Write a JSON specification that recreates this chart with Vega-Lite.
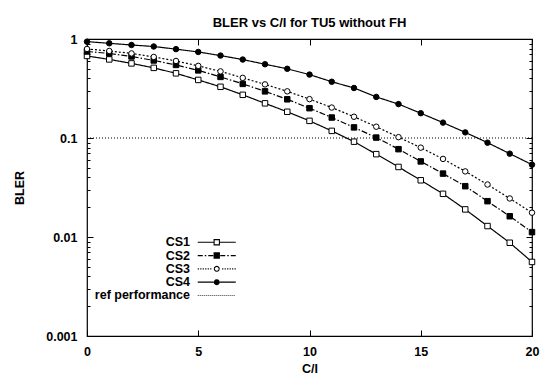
{
  "$schema": "https://vega.github.io/schema/vega-lite/v6.json",
  "width": 445,
  "height": 297,
  "autosize": "none",
  "padding": {"left": 87, "top": 39, "right": 10, "bottom": 41},
  "background": "white",
  "title": {"text": "BLER vs C/I for TU5 without FH", "anchor": "middle", "frame": "group", "font": "Liberation Sans", "fontSize": 13, "fontWeight": "bold", "color": "black", "baseline": "alphabetic", "offset": -7},
  "config": {
    "view": {"stroke": "black", "strokeWidth": 1.2},
    "axis": {"domain": false, "grid": false, "labelFont": "Liberation Sans", "labelFontSize": 12.5, "labelFontWeight": "bold", "labelColor": "black", "titleFont": "Liberation Sans", "titleFontSize": 12.5, "titleFontWeight": "bold", "titleColor": "black", "tickColor": "black", "tickWidth": 1}
  },
  "data": {"values": [
    {"series": "CS1", "ci": 0, "bler": 0.674}, {"series": "CS1", "ci": 1, "bler": 0.622}, {"series": "CS1", "ci": 2, "bler": 0.567}, {"series": "CS1", "ci": 3, "bler": 0.511}, {"series": "CS1", "ci": 4, "bler": 0.45}, {"series": "CS1", "ci": 5, "bler": 0.386}, {"series": "CS1", "ci": 6, "bler": 0.329}, {"series": "CS1", "ci": 7, "bler": 0.273}, {"series": "CS1", "ci": 8, "bler": 0.224}, {"series": "CS1", "ci": 9, "bler": 0.184}, {"series": "CS1", "ci": 10, "bler": 0.149}, {"series": "CS1", "ci": 11, "bler": 0.118}, {"series": "CS1", "ci": 12, "bler": 0.0918}, {"series": "CS1", "ci": 13, "bler": 0.0687}, {"series": "CS1", "ci": 14, "bler": 0.051}, {"series": "CS1", "ci": 15, "bler": 0.0374}, {"series": "CS1", "ci": 16, "bler": 0.0273}, {"series": "CS1", "ci": 17, "bler": 0.019}, {"series": "CS1", "ci": 18, "bler": 0.0129}, {"series": "CS1", "ci": 19, "bler": 0.00875}, {"series": "CS1", "ci": 20, "bler": 0.0056},
    {"series": "CS2", "ci": 0, "bler": 0.748}, {"series": "CS2", "ci": 1, "bler": 0.715}, {"series": "CS2", "ci": 2, "bler": 0.666}, {"series": "CS2", "ci": 3, "bler": 0.607}, {"series": "CS2", "ci": 4, "bler": 0.547}, {"series": "CS2", "ci": 5, "bler": 0.482}, {"series": "CS2", "ci": 6, "bler": 0.414}, {"series": "CS2", "ci": 7, "bler": 0.352}, {"series": "CS2", "ci": 8, "bler": 0.296}, {"series": "CS2", "ci": 9, "bler": 0.246}, {"series": "CS2", "ci": 10, "bler": 0.2}, {"series": "CS2", "ci": 11, "bler": 0.161}, {"series": "CS2", "ci": 12, "bler": 0.128}, {"series": "CS2", "ci": 13, "bler": 0.101}, {"series": "CS2", "ci": 14, "bler": 0.0771}, {"series": "CS2", "ci": 15, "bler": 0.058}, {"series": "CS2", "ci": 16, "bler": 0.0437}, {"series": "CS2", "ci": 17, "bler": 0.0326}, {"series": "CS2", "ci": 18, "bler": 0.023}, {"series": "CS2", "ci": 19, "bler": 0.0162}, {"series": "CS2", "ci": 20, "bler": 0.0112},
    {"series": "CS3", "ci": 0, "bler": 0.793}, {"series": "CS3", "ci": 1, "bler": 0.757}, {"series": "CS3", "ci": 2, "bler": 0.715}, {"series": "CS3", "ci": 3, "bler": 0.659}, {"series": "CS3", "ci": 4, "bler": 0.6}, {"series": "CS3", "ci": 5, "bler": 0.535}, {"series": "CS3", "ci": 6, "bler": 0.471}, {"series": "CS3", "ci": 7, "bler": 0.405}, {"series": "CS3", "ci": 8, "bler": 0.348}, {"series": "CS3", "ci": 9, "bler": 0.296}, {"series": "CS3", "ci": 10, "bler": 0.247}, {"series": "CS3", "ci": 11, "bler": 0.203}, {"series": "CS3", "ci": 12, "bler": 0.164}, {"series": "CS3", "ci": 13, "bler": 0.13}, {"series": "CS3", "ci": 14, "bler": 0.102}, {"series": "CS3", "ci": 15, "bler": 0.0799}, {"series": "CS3", "ci": 16, "bler": 0.0615}, {"series": "CS3", "ci": 17, "bler": 0.046}, {"series": "CS3", "ci": 18, "bler": 0.0339}, {"series": "CS3", "ci": 19, "bler": 0.0245}, {"series": "CS3", "ci": 20, "bler": 0.0176},
    {"series": "CS4", "ci": 0, "bler": 0.94}, {"series": "CS4", "ci": 1, "bler": 0.905}, {"series": "CS4", "ci": 2, "bler": 0.87}, {"series": "CS4", "ci": 3, "bler": 0.84}, {"series": "CS4", "ci": 4, "bler": 0.79}, {"series": "CS4", "ci": 5, "bler": 0.74}, {"series": "CS4", "ci": 6, "bler": 0.68}, {"series": "CS4", "ci": 7, "bler": 0.62}, {"series": "CS4", "ci": 8, "bler": 0.556}, {"series": "CS4", "ci": 9, "bler": 0.5}, {"series": "CS4", "ci": 10, "bler": 0.437}, {"series": "CS4", "ci": 11, "bler": 0.37}, {"series": "CS4", "ci": 12, "bler": 0.32}, {"series": "CS4", "ci": 13, "bler": 0.26}, {"series": "CS4", "ci": 14, "bler": 0.22}, {"series": "CS4", "ci": 15, "bler": 0.178}, {"series": "CS4", "ci": 16, "bler": 0.143}, {"series": "CS4", "ci": 17, "bler": 0.114}, {"series": "CS4", "ci": 18, "bler": 0.0897}, {"series": "CS4", "ci": 19, "bler": 0.0695}, {"series": "CS4", "ci": 20, "bler": 0.0538},
    {"series": "ref performance", "ci": 0, "bler": 0.1}, {"series": "ref performance", "ci": 20, "bler": 0.1}
  ]},
  "layer": [
    {
      "mark": {"type": "line", "color": "black"},
      "encoding": {
        "x": {"field": "ci", "type": "quantitative", "scale": {"domain": [0, 20], "nice": false, "zero": false},
          "axis": {"orient": "bottom", "values": [0, 5, 10, 15, 20], "tickSize": -6, "labelPadding": 15, "labelFlush": false, "labelOverlap": false, "title": "C/I", "titleY": 36, "titleBaseline": "alphabetic"}},
        "y": {"field": "bler", "type": "quantitative", "scale": {"type": "log", "domain": [0.001, 1], "nice": false},
          "axis": {"orient": "left", "values": [0.001, 0.002, 0.003, 0.004, 0.005, 0.006, 0.007, 0.008, 0.009, 0.01, 0.02, 0.03, 0.04, 0.05, 0.06, 0.07, 0.08, 0.09, 0.1, 0.2, 0.3, 0.4, 0.5, 0.6, 0.7, 0.8, 0.9, 1],
            "tickSize": {"expr": "abs(log(datum.value)/LN10 - round(log(datum.value)/LN10)) < 0.001 ? -6 : -3"},
            "labelPadding": 16, "format": "~g",
            "labelExpr": "abs(log(datum.value)/LN10 - round(log(datum.value)/LN10)) < 0.001 ? datum.label : ''",
            "labelOverlap": false, "labelFlush": false, "labelBound": false,
            "title": "BLER", "titleX": -68, "titleY": 148.5, "titleAngle": 270, "titleAlign": "center", "titleBaseline": "middle"}},
        "strokeDash": {"field": "series", "type": "nominal", "scale": {"domain": ["CS1", "CS2", "CS3", "CS4", "ref performance"], "range": [[1, 0], [6, 2, 1.5, 2], [2, 2], [1, 0], [1, 2]]}, "legend": null},
        "strokeWidth": {"field": "series", "type": "nominal", "scale": {"domain": ["CS1", "CS2", "CS3", "CS4", "ref performance"], "range": [1.2, 1.2, 1.2, 1.2, 0.8]}, "legend": null}
      }
    },
    {
      "transform": [{"filter": "datum.series != 'ref performance'"}],
      "mark": {"type": "point", "stroke": "black", "strokeWidth": 1, "opacity": 1, "size": 30},
      "encoding": {
        "x": {"field": "ci", "type": "quantitative", "scale": {"domain": [0, 20], "nice": false, "zero": false},
          "axis": {"orient": "top", "values": [0, 5, 10, 15, 20], "tickSize": -6, "labels": false, "title": null}},
        "y": {"field": "bler", "type": "quantitative", "scale": {"type": "log", "domain": [0.001, 1], "nice": false},
          "axis": {"orient": "right", "values": [0.001, 0.002, 0.003, 0.004, 0.005, 0.006, 0.007, 0.008, 0.009, 0.01, 0.02, 0.03, 0.04, 0.05, 0.06, 0.07, 0.08, 0.09, 0.1, 0.2, 0.3, 0.4, 0.5, 0.6, 0.7, 0.8, 0.9, 1],
            "tickSize": {"expr": "abs(log(datum.value)/LN10 - round(log(datum.value)/LN10)) < 0.001 ? -6 : -3"},
            "labels": false, "title": null}},
        "shape": {"field": "series", "type": "nominal", "scale": {"domain": ["CS1", "CS2", "CS3", "CS4"], "range": ["square", "square", "circle", "circle"]}, "legend": null},
        "fill": {"field": "series", "type": "nominal", "scale": {"domain": ["CS1", "CS2", "CS3", "CS4"], "range": ["white", "black", "white", "black"]}, "legend": null}
      }
    },
    {
      "mark": {"type": "point", "filled": true, "color": "black", "opacity": 0, "strokeWidth": 0},
      "encoding": {
        "x": {"field": "ci", "type": "quantitative", "scale": {"domain": [0, 20], "nice": false, "zero": false}, "axis": null},
        "y": {"field": "bler", "type": "quantitative", "scale": {"type": "log", "domain": [0.001, 1], "nice": false}, "axis": null},
        "shape": {"field": "series", "type": "nominal",
          "scale": {"domain": ["CS1", "CS2", "CS3", "CS4", "ref performance"],
            "range": [
              "M-5.43,-0.17H-0.91V0.17H-5.43ZM0.91,-0.17H5.43V0.17H0.91ZM-0.91,-0.91H0.91V0.91H-0.91ZM-0.6,-0.6V0.6H0.6V-0.6Z",
              "M-5.43,-0.17H-4V0.17H-5.43ZM-3.43,-0.17H-3V0.17H-3.43ZM-2.43,-0.17H-1V0.17H-2.43ZM1,-0.17H2.43V0.17H1ZM3,-0.17H3.43V0.17H3ZM4,-0.17H5.43V0.17H4ZM-0.91,-0.91H0.91V0.91H-0.91Z",
              "M-5.43,-0.17H-5.09V0.17H-5.43ZM-4.72,-0.17H-4.38V0.17H-4.72ZM-4.01,-0.17H-3.67V0.17H-4.01ZM-3.3,-0.17H-2.96V0.17H-3.3ZM-2.59,-0.17H-2.25V0.17H-2.59ZM-1.88,-0.17H-1.54V0.17H-1.88ZM1.54,-0.17H1.88V0.17H1.54ZM2.25,-0.17H2.59V0.17H2.25ZM2.96,-0.17H3.3V0.17H2.96ZM3.67,-0.17H4.01V0.17H3.67ZM4.38,-0.17H4.72V0.17H4.38ZM5.09,-0.17H5.43V0.17H5.09ZM0.86,0L0.745,0.43L0.43,0.745L0,0.86L-0.43,0.745L-0.745,0.43L-0.86,0L-0.745,-0.43L-0.43,-0.745L0,-0.86L0.43,-0.745L0.745,-0.43ZM0.55,0L0.476,-0.275L0.275,-0.476L0,-0.55L-0.275,-0.476L-0.476,-0.275L-0.55,0L-0.476,0.275L-0.275,0.476L0,0.55L0.275,0.476L0.476,0.275Z",
              "M-5.43,-0.17H-0.86V0.17H-5.43ZM0.86,-0.17H5.43V0.17H0.86ZM0.86,0L0.745,0.43L0.43,0.745L0,0.86L-0.43,0.745L-0.745,0.43L-0.86,0L-0.745,-0.43L-0.43,-0.745L0,-0.86L0.43,-0.745L0.745,-0.43Z",
              "M-5.43,-0.12h0.29v0.24h-0.29ZM-4.86,-0.12h0.29v0.24h-0.29ZM-4.29,-0.12h0.29v0.24h-0.29ZM-3.72,-0.12h0.29v0.24h-0.29ZM-3.15,-0.12h0.29v0.24h-0.29ZM-2.58,-0.12h0.29v0.24h-0.29ZM-2.01,-0.12h0.29v0.24h-0.29ZM-1.44,-0.12h0.29v0.24h-0.29ZM-0.87,-0.12h0.29v0.24h-0.29ZM-0.3,-0.12h0.29v0.24h-0.29ZM0.27,-0.12h0.29v0.24h-0.29ZM0.84,-0.12h0.29v0.24h-0.29ZM1.41,-0.12h0.29v0.24h-0.29ZM1.98,-0.12h0.29v0.24h-0.29ZM2.55,-0.12h0.29v0.24h-0.29ZM3.12,-0.12h0.29v0.24h-0.29ZM3.69,-0.12h0.29v0.24h-0.29ZM4.26,-0.12h0.29v0.24h-0.29ZM4.83,-0.12h0.29v0.24h-0.29Z"
            ]},
          "legend": {"orient": "none", "legendX": 0, "legendY": 197, "title": null, "direction": "vertical", "labelAlign": "right", "labelOffset": -33, "symbolOffset": 123.5, "symbolSize": 49, "symbolStrokeWidth": 0, "rowPadding": 0.3, "padding": 0, "labelFont": "Liberation Sans", "labelFontSize": 12.5, "labelFontWeight": "bold", "labelColor": "black"}}
      }
    }
  ],
  "resolve": {"scale": {"x": "independent", "y": "independent", "shape": "independent"}, "axis": {"x": "independent", "y": "independent"}}
}
